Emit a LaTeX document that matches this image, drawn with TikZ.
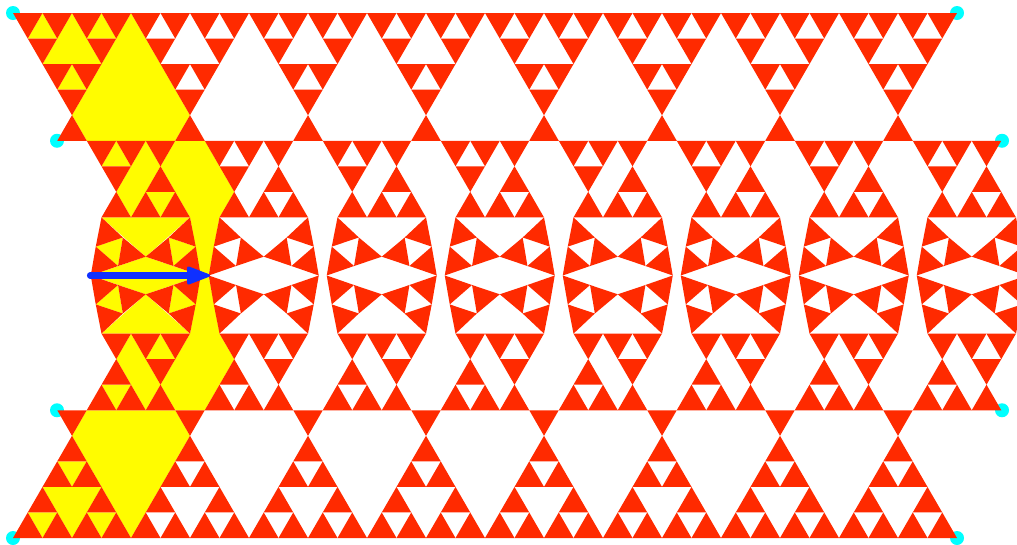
\documentclass[tikz,border=0pt]{standalone}
\usetikzlibrary{arrows.meta}
\definecolor{redf}{HTML}{FF2A00}
\definecolor{yelf}{HTML}{FFFC00}
\definecolor{cyaf}{HTML}{00FFFF}
\definecolor{bluf}{HTML}{0F30FF}
\tikzset{
  redtri/.style={fill=redf},
  yeltri/.style={fill=yelf},
  corner/.style={fill=cyaf},
  pointer/.style={draw=bluf,line width=4.6pt,line cap=round,-{Triangle[round,line width=2pt,length=19pt,width=14pt,fill=bluf]}}
}
% lattice point: k along a row, j = row number
\newcommand\lat[2]{({13+29.5*((#1)+(#2)/2)},{13+25.55*(#2)})}
\newcommand\DnT[3][redtri]{\fill[#1] \lat{#2}{#3} -- \lat{(#2)+1}{#3} -- \lat{#2}{(#3)+1} -- cycle;}
\newcommand\UpT[3][redtri]{\fill[#1] \lat{#2}{#3} -- \lat{(#2)-1}{(#3)+1} -- \lat{#2}{(#3)+1} -- cycle;}
\newcommand\SideTwo[2]{\DnT{#1}{#2}\DnT{(#1)+1}{#2}\DnT{#1}{(#2)+1}}
\newcommand\HalfPicture{%
  \foreach \px/\py in {13/13,957/13,57/140.75,1002/140.75}{
    \fill[corner] (\px,\py) circle (7);
  }
  % yellow region
  \fill[yeltri] \lat{4}{0} -- \lat{4}{4} -- \lat{3}{5} -- \lat{0}{5} -- \lat{0}{4} -- cycle;
  \UpT[yeltri]{1}{0}\UpT[yeltri]{3}{0}\UpT[yeltri]{1}{2}
  \fill[yeltri] \lat{2}{0} -- \lat{0}{2} -- \lat{2}{2} -- cycle;
  \UpT[yeltri]{1}{5}\DnT[yeltri]{1}{7}
  \fill[yeltri] \lat{2}{5} -- \lat{2}{6} -- \lat{0}{8} -- \lat{0}{7} -- cycle;
  \fill[yeltri] \lat{3}{5} -- \lat{2}{6} -- \lat{2}{8} -- (200.75,275.5) -- (208.75,275.5) -- \lat{3}{8} -- \lat{4}{7} -- \lat{4}{5} -- cycle;
  \fill[yeltri] (101.5,217.4) -- (190,217.4) -- (145.75,256.7) -- cycle;
  \fill[yeltri] (90.75,275.5) -- (145.75,256.7) -- (200.75,275.5) -- cycle;
  \foreach \s in {-1,1}{
    \fill[yeltri] ({145.75+\s*50},246.6) -- ({145.75+\s*22.9},237.5) -- ({145.75+\s*27.7},266) -- cycle;
  }
  % red triangles, one cell after the other
  \foreach \i in {0,...,7}{
    \pgfmathtruncatemacro\K{4*\i}
    \pgfmathsetmacro\cx{145.75+118*\i}
    \SideTwo{\K}{0}\SideTwo{\K+2}{0}\SideTwo{\K}{2}
    \UpT{\K}{4}
    \DnT{\K}{5}\DnT{\K+1}{5}\DnT{\K+2}{5}
    \DnT{\K}{6}\UpT{\K+2}{6}
    \UpT{\K}{7}\UpT{\K+1}{7}\UpT{\K+2}{7}
    \foreach \s in {-1,1}{
      \fill[redtri] ({\cx+\s*44.25},217.4) -- ({\cx+\s*22.9},237.5) -- ({\cx+\s*50},246.6) -- cycle;
      \fill[redtri] ({\cx+\s*22.9},237.5) -- (\cx,256.7) -- ({\cx+\s*27.7},266) -- cycle;
      \fill[redtri] ({\cx+\s*50},246.6) -- ({\cx+\s*27.7},266) -- ({\cx+\s*55},275.5) -- cycle;
    }
  }
}
\begin{document}
\begin{tikzpicture}[x=0.75pt,y=-0.75pt]
  \useasboundingbox (0,0) rectangle (1017,544);
  \clip (0,0) rectangle (1017,544);
  \fill[white] (0,0) rectangle (1017,544);
  \HalfPicture
  \begin{scope}[shift={(0,551)},yscale=-1]
    \HalfPicture
  \end{scope}
  \coordinate (arrowstart) at (90,275.5);
  \coordinate (arrowend) at (210,275.5);
  \draw[pointer] (arrowstart) -- (arrowend);
\end{tikzpicture}
\end{document}
